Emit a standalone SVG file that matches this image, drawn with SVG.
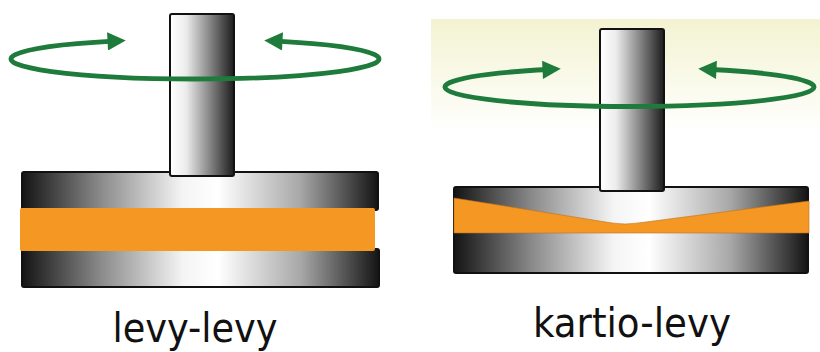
<svg xmlns="http://www.w3.org/2000/svg" width="820" height="352" viewBox="0 0 820 352">
  <defs>
    <linearGradient id="plateShade" x1="0" y1="0" x2="1" y2="0">
      <stop offset="0" stop-color="#141414"/>
      <stop offset="0.22" stop-color="#8a8a8a"/>
      <stop offset="0.45" stop-color="#f4f4f4"/>
      <stop offset="0.55" stop-color="#ffffff"/>
      <stop offset="0.78" stop-color="#a8a8a8"/>
      <stop offset="1" stop-color="#141414"/>
    </linearGradient>
    <linearGradient id="shaftShade" x1="0" y1="0" x2="1" y2="0">
      <stop offset="0" stop-color="#ffffff"/>
      <stop offset="0.25" stop-color="#ececec"/>
      <stop offset="0.6" stop-color="#8c8c8c"/>
      <stop offset="1" stop-color="#1c1c1c"/>
    </linearGradient>
    <linearGradient id="haze" x1="0" y1="0" x2="0" y2="1">
      <stop offset="0" stop-color="#f3f3d2"/>
      <stop offset="1" stop-color="#ffffff"/>
    </linearGradient>
    <marker id="head" viewBox="0 0 10 10" refX="3" refY="5" markerWidth="4.2" markerHeight="3.8" orient="auto-start-reverse" markerUnits="strokeWidth">
      <path d="M0,0 L10,5 L0,10 z" fill="#1e7b3c"/>
    </marker>
  </defs>
  <style>
    .plate { fill: url(#plateShade); stroke: #111; stroke-width: 2; }
    .shaft { fill: url(#shaftShade); stroke: #111; stroke-width: 2; }
    .sample { fill: #f49823; }
    .spin { fill: none; stroke: #1e7b3c; stroke-width: 4.8; marker-start: url(#head); marker-end: url(#head); }
    .label { font-family: "DejaVu Sans Condensed", "DejaVu Sans", sans-serif; font-size: 40px; fill: #111; text-anchor: middle; }
  </style>

  <rect x="431" y="19" width="389" height="115" fill="url(#haze)"/>

  <!-- parallel plate geometry -->
  <g id="plate-plate">
    <rect class="plate" x="22" y="172" width="356" height="38" rx="2"/>
    <rect class="plate" x="22" y="249" width="357" height="38" rx="2"/>
    <rect class="sample" x="20" y="208" width="355" height="43" rx="2"/>
    <rect class="shaft" x="170" y="14" width="64" height="162" rx="2"/>
    <text class="label" x="195" y="342" textLength="165" lengthAdjust="spacingAndGlyphs">levy-levy</text>
  </g>

  <!-- cone and plate geometry -->
  <g id="cone-plate">
    <rect class="plate" x="454" y="187" width="354" height="86" rx="2"/>
    <path class="sample" d="M454,198 L612,223 Q625,225 638,223 L809,201 L809,233 L454,233 Z" stroke="#c07020" stroke-width="0.6"/>
    <rect class="shaft" x="600" y="29" width="64" height="162" rx="2"/>
    <text class="label" x="632" y="337" textLength="198" lengthAdjust="spacingAndGlyphs">kartio-levy</text>
  </g>

  <!-- rotation arrows -->
  <g id="connectors">
    <path class="spin" d="M113,41.1 A184 20 0 1 0 277,41.1"/>
    <path class="spin" d="M548,69.5 A184.5 19.5 0 1 0 711,69.5"/>
  </g>
</svg>
